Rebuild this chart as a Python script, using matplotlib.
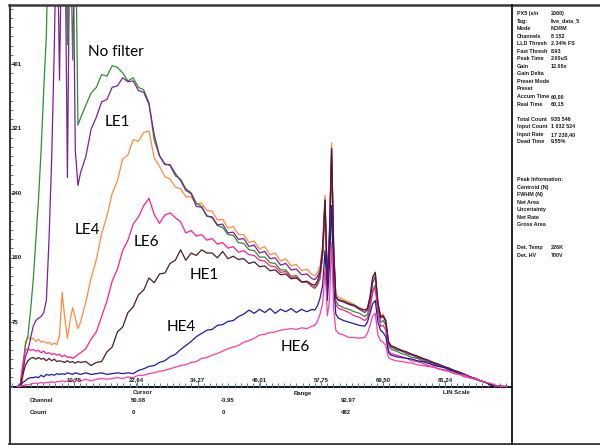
import numpy as np
import matplotlib
matplotlib.use("Agg")
import matplotlib.pyplot as plt
from matplotlib.lines import Line2D

# --- DATA ---
channel = [0, 0.5, 1, 1.5, 2, 2.5, 3, 3.5, 4, 4.5, 5, 5.5, 6, 6.5, 7, 7.5, 8, 8.5, 9, 9.5, 10, 10.5, 11, 11.5, 12,
           13, 14, 15, 16, 17, 18, 19, 20, 21, 22, 23, 24, 25, 26, 27, 28, 29, 30, 31, 32, 33, 34,
           35, 36, 37, 38, 39, 40, 41, 42, 43, 44, 45, 46, 47, 48, 49, 50, 51, 52, 53, 54, 55, 56,
           56.5, 57, 57.5, 58, 58.45, 58.9, 59.3, 59.7, 60.1, 60.5, 61,
           62, 63, 64, 65, 66,
           66.5, 67, 67.5, 68, 68.5, 69, 69.5, 70, 70.5, 71,
           72, 73, 74, 75, 76, 77, 78, 79, 80, 81, 82, 83, 84, 85, 86, 87, 88, 89, 90, 91, 92, 93]

no_filter = [0, 0, 24, 51, 63, 95, 132, 182, 232, 294, 369, 437, 600, 600, 600, 600, 600, 600, 600, 425, 600, 406, 600, 325, 334,
             350, 365, 372, 388, 386, 399, 397, 390, 380, 384, 372, 369, 353, 306, 287, 277, 275, 262, 258, 246, 241, 228,
             224, 212, 210, 200, 198, 189, 188, 179, 178, 170, 169, 161, 161, 154, 153, 145, 145, 137, 138, 130, 130, 124,
             122, 126, 134, 163, 225, 126, 182, 288, 163, 107, 101,
             98, 96, 93, 91, 87,
             90, 101, 120, 126, 97, 80, 82, 76, 51, 46,
             44, 41, 39, 36, 35, 32, 30, 27, 25, 24, 21, 19, 16, 14, 11, 10, 7, 5, 2, 1, 0, 0]

le1 = [0, 0, 17, 37, 45, 60, 75, 82, 85, 87, 92, 107, 182, 281, 418, 600, 381, 600, 600, 260, 600, 600, 294, 250, 266,
       286, 320, 335, 354, 357, 372, 374, 384, 379, 380, 368, 366, 351, 313, 287, 276, 276, 265, 256, 244, 240, 224,
       223, 212, 211, 201, 202, 191, 192, 183, 184, 174, 176, 166, 168, 159, 160, 151, 153, 145, 146, 139, 140, 134,
       133, 137, 144, 172, 232, 129, 192, 296, 169, 112, 107,
       105, 102, 100, 96, 92,
       95, 107, 129, 137, 101, 85, 87, 80, 54, 49,
       46, 44, 41, 39, 36, 34, 31, 29, 26, 24, 21, 19, 16, 14, 11, 9, 7, 5, 2, 1, 0, 0]

le4 = [0, 0, 7, 55, 61, 59, 60, 56, 59, 55, 56, 54, 55, 52, 54, 52, 63, 117, 85, 60, 82, 98, 85, 72, 80,
       105, 135, 158, 190, 212, 240, 256, 283, 288, 307, 305, 316, 318, 284, 274, 261, 258, 248, 246, 236, 236, 227,
       228, 219, 218, 207, 208, 197, 199, 189, 189, 179, 181, 171, 174, 164, 166, 156, 159, 150, 152, 144, 146, 139,
       138, 142, 149, 177, 238, 132, 197, 303, 173, 115, 111,
       108, 105, 102, 98, 95,
       97, 111, 134, 142, 103, 87, 90, 82, 55, 50,
       47, 45, 42, 40, 37, 35, 32, 30, 27, 25, 22, 20, 17, 15, 12, 10, 7, 5, 2, 1, 0, 0]

le6 = [0, 0, 26, 45, 47, 45, 46, 44, 45, 42, 44, 41, 42, 40, 41, 39, 40, 37, 39, 36, 37, 35, 37, 40, 42,
       47, 59, 68, 87, 106, 131, 146, 169, 182, 202, 211, 225, 234, 214, 203, 213, 216, 210, 205, 191, 194, 187,
       189, 182, 184, 177, 179, 172, 174, 167, 169, 164, 163, 157, 156, 150, 149, 142, 143, 136, 136, 130, 130, 125,
       123, 128, 137, 164, 219, 120, 176, 281, 154, 102, 97,
       95, 92, 88, 86, 82,
       85, 97, 117, 123, 91, 75, 76, 70, 45, 41,
       39, 37, 35, 32, 31, 29, 26, 25, 22, 21, 19, 16, 15, 12, 11, 9, 7, 5, 2, 1, 0, 0]

he1 = [0, 0, 14, 26, 32, 35, 36, 34, 36, 34, 35, 32, 35, 32, 34, 31, 32, 31, 30, 32, 30, 31, 29, 31, 30,
       31, 26, 30, 31, 43, 49, 68, 74, 92, 99, 114, 120, 135, 129, 140, 141, 153, 157, 170, 157, 166, 163,
       170, 166, 166, 160, 168, 159, 162, 158, 159, 153, 155, 149, 150, 144, 145, 139, 140, 134, 135, 130, 131, 127,
       126, 131, 141, 169, 232, 126, 188, 296, 167, 111, 108,
       106, 103, 101, 97, 95,
       97, 112, 136, 142, 105, 87, 88, 82, 56, 51,
       48, 45, 43, 40, 38, 35, 33, 30, 28, 25, 23, 20, 18, 15, 12, 10, 7, 5, 2, 1, 0, 0]

he4 = [0, 0, 5, 7, 10, 11, 11, 12, 11, 14, 12, 15, 14, 15, 14, 16, 15, 16, 15, 17, 16, 15, 17, 16, 15,
       17, 15, 16, 17, 15, 16, 17, 16, 17, 16, 20, 22, 25, 26, 30, 32, 37, 40, 46, 51, 56, 62,
       66, 70, 71, 76, 77, 81, 82, 87, 90, 95, 91, 96, 92, 97, 91, 96, 93, 97, 92, 96, 93, 96,
       95, 100, 110, 126, 169, 107, 151, 225, 126, 90, 85,
       82, 80, 78, 76, 75,
       80, 91, 103, 107, 80, 70, 67, 62, 42, 39,
       37, 36, 35, 34, 32, 31, 29, 27, 25, 24, 21, 19, 16, 15, 12, 10, 7, 5, 2, 1, 0, 0]

he6 = [0, 0, 1, 2, 2, 3, 4, 4, 4, 5, 4, 5, 5, 6, 5, 6, 6, 7, 6, 7, 6, 7, 9, 7, 7,
       9, 7, 9, 10, 9, 10, 11, 10, 12, 11, 14, 14, 16, 17, 19, 20, 22, 24, 26, 27, 30, 31,
       35, 36, 39, 41, 44, 47, 49, 51, 55, 57, 60, 64, 65, 67, 68, 70, 71, 72, 71, 73, 72, 75,
       76, 81, 90, 103, 147, 88, 107, 179, 95, 70, 66,
       64, 61, 61, 60, 61,
       66, 76, 88, 91, 64, 57, 55, 51, 36, 34,
       32, 31, 30, 29, 27, 26, 25, 24, 22, 20, 19, 17, 15, 14, 11, 10, 7, 5, 4, 1, 0, 0]

x_tick_labels = ['10,75', '22,64', '34,27', '46,01', '57,75', '69,50', '81,24']
y_tick_labels = ['75', '160', '240', '321', '401']
y_tick_values = [80.2, 160.4, 240.6, 320.8, 401.0]

panel_rows = [('PX5 (s/n', '2060)'), ('Tag:', 'live_data_5'), ('Mode', 'NORM'), ('Channels', '8 152'),
              ('LLD Thresh', '2.34% FS'), ('Fast Thresh', '8.93'), ('Peak Time', '2.00uS'), ('Gain', '12.00x'),
              ('Gain Delta', ''), ('Preset Mode', ''), ('Preset', ''), ('Accum Time', '60,00'),
              ('Real Time', '60,15'), ('', ''), ('Total Count', '935 546'), ('Input Count', '1 032 524'),
              ('Input Rate', '17 238,40'), ('Dead Time', '9.55%'), ('', ''), ('', ''), ('', ''), ('', ''),
              ('Peak Information:', ''), ('Centroid (N)', ''), ('FWHM (N)', ''), ('Net Area', ''),
              ('Uncertainty', ''), ('Net Rate', ''), ('Gross Area', ''), ('', ''), ('', ''),
              ('Det. Temp', '226K'), ('Det. HV', '700V')]

series = [
    ('LE4', le4, '#ff8a3d'),
    ('No filter', no_filter, '#2f8f2f'),
    ('LE1', le1, '#7d1f9a'),
    ('LE6', le6, '#ff1f8e'),
    ('HE1', he1, '#4a1f1f'),
    ('HE4', he4, '#1c1ca8'),
    ('HE6', he6, '#ff3d9e'),
]

# label name -> pixel centre in the screenshot
curve_labels = [('No filter', 116, 52), ('LE1', 117, 122), ('LE4', 87, 230), ('LE6', 146, 242),
                ('HE1', 204, 275), ('HE4', 181, 327), ('HE6', 295, 347)]

W, H = 600, 445


def fx(px):
    return px / W


def fy(py):
    return 1 - py / H


def main():
    fig = plt.figure(figsize=(6, 4.45), dpi=100)
    ax = fig.add_axes([fx(10), fy(386.5), fx(512) - fx(10), fy(5) - fy(386.5)])

    for name, vals, col in series:
        ax.plot(channel, vals, color=col, lw=0.9, solid_joinstyle='round')

    ax.set_xlim(-1.41, 93.98)
    ax.set_ylim(0, 474.5)

    for s in ['top', 'right', 'left']:
        ax.spines[s].set_visible(False)
    ax.spines['bottom'].set_linewidth(1.3)
    ax.spines['bottom'].set_color('black')
    ax.spines['bottom'].set_zorder(1)

    # ticks
    x_major = [float(t.replace(',', '.')) for t in x_tick_labels]
    ax.set_xticks(x_major)
    ax.set_xticks(np.arange(-0.99, 94, 1.174), minor=True)
    ax.set_yticks(y_tick_values)
    ax.set_yticks(np.arange(0, 474, 80.2 / 7), minor=True)
    ax.tick_params(axis='both', which='both', direction='in', colors='#4a7cb8',
                   width=0.7, labelbottom=False, labelleft=False)
    ax.tick_params(axis='x', which='major', length=4)
    ax.tick_params(axis='x', which='minor', length=3)
    ax.tick_params(axis='y', which='major', length=3)
    ax.tick_params(axis='y', which='minor', length=2.5)

    small = dict(family='Liberation Sans', fontweight='bold', fontsize=4.3, color='#1a1a1a')
    panel = dict(family='Liberation Sans', fontweight='bold', fontsize=3.9, color='#1a1a1a')

    for lab, xv in zip(x_tick_labels, x_major):
        ax.annotate(lab, xy=(xv, 0), xycoords=('data', 'axes fraction'), xytext=(0, 5),
                    textcoords='offset points', ha='center', va='center', **small)
    for lab, yv in zip(y_tick_labels, y_tick_values):
        ax.annotate(lab, xy=(0, yv), xycoords=('axes fraction', 'data'), xytext=(1.5, 0),
                    textcoords='offset points', ha='left', va='center', **small)

    # curve names
    for name, px, py in curve_labels:
        fig.text(fx(px), fy(py), name, family='Lato', fontsize=11, color='black',
                 ha='center', va='center')

    # frame of the screen
    frame = dict(color='#3a3a3a', transform=fig.transFigure)
    fig.add_artist(Line2D([fx(9), fx(600)], [fy(4.5), fy(4.5)], lw=1.8, **frame))
    fig.add_artist(Line2D([fx(9.5), fx(9.5)], [fy(4.5), fy(444)], lw=1.5, **frame))
    fig.add_artist(Line2D([fx(9), fx(600)], [fy(443.5), fy(443.5)], lw=2.0, **frame))
    fig.add_artist(Line2D([fx(512), fx(512)], [fy(4.5), fy(444)], lw=1.3,
                          color='#111111', transform=fig.transFigure))

    # bottom cursor panel
    fig.text(fx(143), fy(393), 'Cursor', ha='center', va='center', **small)
    fig.text(fx(303), fy(393), 'Range', ha='center', va='center', **small)
    fig.text(fx(456), fy(393), 'LIN Scale', ha='center', va='center', **small)
    fig.text(fx(30), fy(401), 'Channel', ha='left', va='center', **small)
    fig.text(fx(30), fy(412), 'Count', ha='left', va='center', **small)
    fig.text(fx(131), fy(401), '50.08', ha='left', va='center', **small)
    fig.text(fx(132), fy(412), '0', ha='left', va='center', **small)
    fig.text(fx(221), fy(401), '-0.95', ha='left', va='center', **small)
    fig.text(fx(222), fy(412), '0', ha='left', va='center', **small)
    fig.text(fx(341), fy(401), '92.97', ha='left', va='center', **small)
    fig.text(fx(341), fy(412), '482', ha='left', va='center', **small)

    # right info panel
    for i, (name, val) in enumerate(panel_rows):
        py = 13.5 + i * 7.55
        if name:
            fig.text(fx(517), fy(py), name, ha='left', va='center', **panel)
        if val:
            fig.text(fx(551), fy(py), val, ha='left', va='center', **panel)

    fig.savefig('out.png', dpi=100)


if __name__ == "__main__":
    main()
